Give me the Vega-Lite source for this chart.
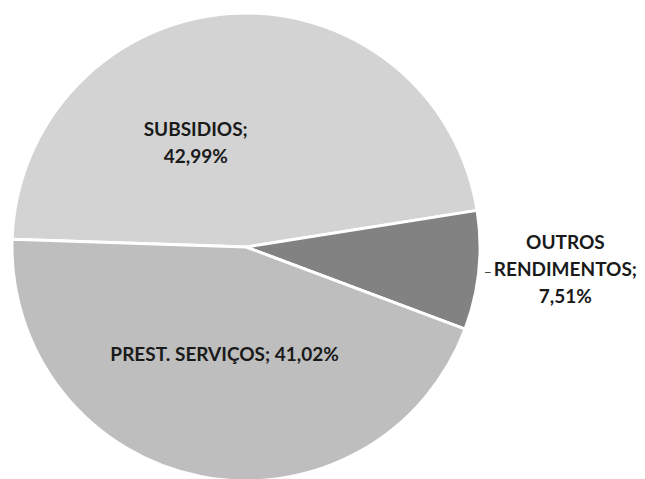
{
  "$schema": "https://vega.github.io/schema/vega-lite/v6.json",
  "width": 492,
  "height": 494,
  "autosize": {"type": "none"},
  "padding": {"left": 0, "top": 0, "right": 153, "bottom": 0},
  "background": "white",
  "view": {"stroke": null},
  "data": {
    "values": [
      {"cat": "SUBSIDIOS", "value": 42.99, "label": "SUBSIDIOS;\n42,99%"},
      {"cat": "OUTROS RENDIMENTOS", "value": 7.51, "label": "OUTROS\nRENDIMENTOS;\n7,51%"},
      {"cat": "PREST. SERVIÇOS", "value": 41.02, "label": "PREST. SERVIÇOS; 41,02%"}
    ]
  },
  "encoding": {
    "theta": {"field": "value", "type": "quantitative", "stack": true, "scale": {"range": [1.4137, 7.6969]}},
    "order": {"field": "cat", "sort": "ascending"},
    "detail": {"field": "cat"}
  },
  "layer": [
    {
      "mark": {"type": "arc", "outerRadius": 234, "stroke": "white", "strokeWidth": 3},
      "encoding": {
        "color": {
          "field": "cat", "type": "nominal",
          "scale": {"domain": ["SUBSIDIOS", "OUTROS RENDIMENTOS", "PREST. SERVIÇOS"], "range": ["#d3d3d3", "#828282", "#bebebe"]},
          "legend": null
        }
      }
    },
    {
      "mark": {"type": "text", "radius": 118, "dx": -43, "dy": 1, "font": "Lato", "fontWeight": "bold", "fontSize": 19, "lineHeight": 27, "lineBreak": "\n", "fill": "#1a1a1a", "align": "center", "baseline": "middle"},
      "encoding": {"text": {"condition": {"test": "datum.cat === 'SUBSIDIOS'", "field": "label", "type": "nominal"}, "value": ""}}
    },
    {
      "mark": {"type": "text", "radius": 110, "font": "Lato", "fontWeight": "bold", "fontSize": 19, "lineHeight": 27, "lineBreak": "\n", "fill": "#1a1a1a", "align": "center", "baseline": "middle"},
      "encoding": {"text": {"condition": {"test": "datum.cat === 'PREST. SERVIÇOS'", "field": "label", "type": "nominal"}, "value": ""}}
    },
    {
      "mark": {"type": "text", "radius": 320, "dx": 1, "dy": -36, "font": "Lato", "fontWeight": "bold", "fontSize": 19, "lineHeight": 27, "lineBreak": "\n", "fill": "#1a1a1a", "align": "center", "baseline": "middle"},
      "encoding": {"text": {"condition": {"test": "datum.cat === 'OUTROS RENDIMENTOS'", "field": "label", "type": "nominal"}, "value": ""}}
    },
    {
      "mark": {"type": "text", "radius": 243, "dy": 2, "font": "Lato", "fontSize": 14, "fill": "#333333", "align": "center", "baseline": "middle"},
      "encoding": {"text": {"condition": {"test": "datum.cat === 'OUTROS RENDIMENTOS'", "value": "–"}, "value": ""}}
    }
  ]
}
